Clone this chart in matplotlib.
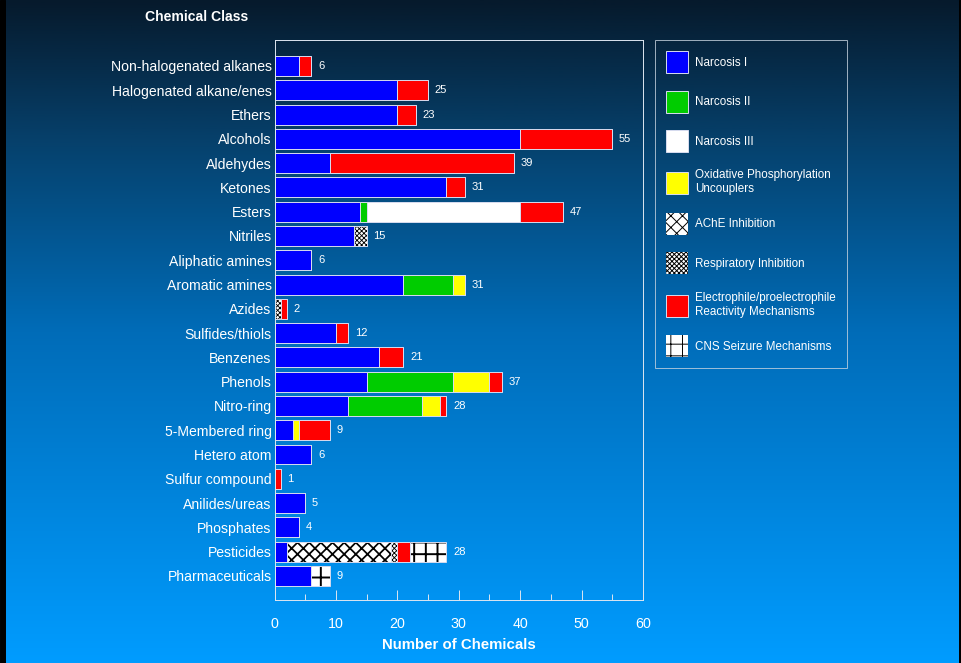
import numpy as np
import matplotlib
matplotlib.use("Agg")
import matplotlib.pyplot as plt
from matplotlib.patches import Patch, Rectangle
from matplotlib.colors import LinearSegmentedColormap

# chemical classes, top to bottom
categories = ["Non-halogenated alkanes", "Halogenated alkane/enes", "Ethers", "Alcohols",
              "Aldehydes", "Ketones", "Esters", "Nitriles", "Aliphatic amines",
              "Aromatic amines", "Azides", "Sulfides/thiols", "Benzenes", "Phenols",
              "Nitro-ring", "5-Membered ring", "Hetero atom", "Sulfur compound",
              "Anilides/ureas", "Phosphates", "Pesticides", "Pharmaceuticals"]

# number of chemicals per mode of action
narcosis1 = [4, 20, 20, 40, 9, 28, 14, 13, 6, 21, 0, 10, 17, 15, 12, 3, 6, 0, 5, 4, 2, 6]
narcosis2 = [0, 0, 0, 0, 0, 0, 1, 0, 0, 8, 0, 0, 0, 14, 12, 0, 0, 0, 0, 0, 0, 0]
narcosis3 = [0, 0, 0, 0, 0, 0, 25, 0, 0, 0, 0, 0, 0, 0, 0, 0, 0, 0, 0, 0, 0, 0]
oxphos = [0, 0, 0, 0, 0, 0, 0, 0, 0, 2, 0, 0, 0, 6, 3, 1, 0, 0, 0, 0, 0, 0]
ache = [0, 0, 0, 0, 0, 0, 0, 0, 0, 0, 0, 0, 0, 0, 0, 0, 0, 0, 0, 0, 17, 0]
respiratory = [0, 0, 0, 0, 0, 0, 0, 2, 0, 0, 1, 0, 0, 0, 0, 0, 0, 0, 0, 0, 1, 0]
electrophile = [2, 5, 3, 15, 30, 3, 7, 0, 0, 0, 1, 2, 4, 2, 1, 5, 0, 1, 0, 0, 2, 0]
cns = [0, 0, 0, 0, 0, 0, 0, 0, 0, 0, 0, 0, 0, 0, 0, 0, 0, 0, 0, 0, 6, 3]

series = [
    ("Narcosis I", narcosis1, "#0000ff", None, 1.0),
    ("Narcosis II", narcosis2, "#00cc00", None, 1.0),
    ("Narcosis III", narcosis3, "#ffffff", None, 1.0),
    ("Oxidative Phosphorylation\nUncouplers", oxphos, "#ffff00", None, 1.0),
    ("AChE Inhibition", ache, "#ffffff", "xx", 1.8),
    ("Respiratory Inhibition", respiratory, "#ffffff", "xxxxx", 0.9),
    ("Electrophile/proelectrophile\nReactivity Mechanisms", electrophile, "#ff0000", None, 1.0),
    ("CNS Seizure Mechanisms", cns, "#ffffff", "+", 2.0),
]

DPI = 70
plt.rcParams['font.family'] = ['Liberation Sans', 'DejaVu Sans']
fig = plt.figure(figsize=(961 / DPI, 663 / DPI), dpi=DPI)

# background gradient
bg = fig.add_axes([0, 0, 1, 1], zorder=-10)
cmap = LinearSegmentedColormap.from_list(
    "bg", [(0.0, "#061a2c"), (0.22, "#06426e"), (0.5, "#006cb8"), (1.0, "#009cff")])
bg.imshow(np.linspace(0, 1, 256).reshape(-1, 1), aspect="auto", cmap=cmap,
          extent=[0, 1, 0, 1])
bg.set_axis_off()
fig.patches.append(Rectangle((0, 0), 5 / 961, 1, transform=fig.transFigure,
                             color="black", zorder=-5))
fig.patches.append(Rectangle((1 - 2 / 961, 0), 2 / 961, 1, transform=fig.transFigure,
                             color="black", zorder=-5))

ax = fig.add_axes([274.5 / 961, 63 / 663, (643 - 274.5) / 961, 560 / 663])
ax.set_facecolor("none")

y = np.arange(len(categories))
left = np.zeros(len(categories))
edge = "#d8dcf0"
for name, vals, color, hatch, hlw in series:
    vals = np.array(vals, dtype=float)
    if hatch:
        with plt.rc_context({'hatch.linewidth': hlw}):
            ax.barh(y, vals, left=left, height=0.82, color=color, hatch=hatch,
                    edgecolor="black", linewidth=0)
        ax.barh(y, vals, left=left, height=0.82, fill=False, edgecolor=edge, linewidth=1.0)
    else:
        ax.barh(y, vals, left=left, height=0.82, color=color, edgecolor=edge, linewidth=1.0)
    left += vals

for yi, total in zip(y, left):
    ax.text(total + 1.1, yi, f"{int(total)}", va="center", ha="left",
            color="white", fontsize=11.5)

ax.set_xlim(0, 60)
ax.set_ylim(21.99, -1.07)
ax.set_yticks(y)
ax.set_yticklabels(categories)
ax.set_xticks(np.arange(0, 61, 10))
ax.set_xticks(np.arange(5, 60, 10), minor=True)
ax.tick_params(axis="y", length=0, pad=3, labelcolor="white", labelsize=14.4)
ax.tick_params(axis="x", which="major", direction="in", length=10.3, width=1,
               color="#dde6f0", pad=17, labelcolor="white", labelsize=14.6)
ax.tick_params(axis="x", which="minor", direction="in", length=6, width=1,
               color="#dde6f0")
for s in ax.spines.values():
    s.set_color("#dde6f0")
    s.set_linewidth(1.0)

ax.set_xlabel("Number of Chemicals", color="white", fontsize=15.4,
              fontweight="bold", labelpad=8)
fig.text(197 / 961, 1 - 17 / 663, "Chemical Class", color="white", fontsize=14.4,
         fontweight="bold", ha="center", va="center")

handles = []
for name, vals, color, hatch, hlw in series:
    if hatch:
        with plt.rc_context({'hatch.linewidth': hlw}):
            handles.append(Patch(facecolor=color, hatch=hatch, edgecolor="black",
                                 linewidth=0, label=name))
    else:
        handles.append(Patch(facecolor=color, edgecolor=edge, linewidth=1.0, label=name))

leg = ax.legend(handles=handles, loc="upper left",
                bbox_to_anchor=(655 / 961, 1 - 40 / 663), bbox_transform=fig.transFigure,
                borderaxespad=0, fontsize=12.0, labelcolor="white", frameon=True,
                fancybox=False, handlelength=1.885, handleheight=2.52,
                handletextpad=0.6, labelspacing=1.5, borderpad=0.95)
leg.get_frame().set_facecolor("none")
leg.get_frame().set_edgecolor("#c8d4e0")
leg.get_frame().set_linewidth(1.0)

fig.savefig("out.png", dpi=DPI)
